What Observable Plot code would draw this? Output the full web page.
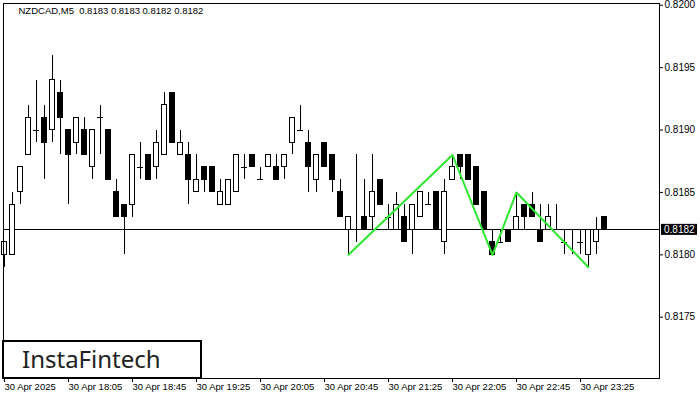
<!DOCTYPE html>
<html><head><meta charset="utf-8">
<script src="https://cdn.jsdelivr.net/npm/d3@7"></script>
<script src="https://cdn.jsdelivr.net/npm/@observablehq/plot@0.6"></script>
<style>body{margin:0;background:#fff}</style>
</head><body><div id="chart"></div>
<script>
const symbol = "NZDCAD,M5";
const opens = [
.8180,.8180,.8185,.8188,.8190,.8191,.8190,.8193,.8190,.8189,
.8190,.8187,.8191,.8190,.8185,.8184,.8184,.8187,.8188,.8187,
.8188,.8193,.8188,.8188,.8185,.8187,.8187,.8184,.8184,.8185,
.8187,.8188,.8186,.8187,.8187,.8187,.8189,.8190,.8189,.8186,
.8189,.8188,.8185,.8182,.8182,.8183,.8183,.8186,.8183,.8182,
.8183,.8182,.8183,.8184,.8185,.8181,.8186,.8188,.8188,.8187,
.8185,.8181,.8181,.8182,.8182,.8184,.8184,.8182,.8182,.8182,
.8181,.8182,.8181,.8180,.8181,.8183];
const highs = [
.8181,.8185,.8187,.8192,.8194,.8192,.8196,.8194,.8190,.8191,
.8191,.8190,.8192,.8190,.8186,.8184,.8188,.8189,.8188,.8190,
.8193,.8193,.8190,.8189,.8188,.8187,.8187,.8186,.8186,.8188,
.8188,.8188,.8187,.8188,.8188,.8188,.8191,.8192,.8190,.8188,
.8189,.8188,.8186,.8183,.8188,.8186,.8188,.8186,.8184,.8185,
.8184,.8184,.8185,.8185,.8185,.8186,.8188,.8188,.8188,.8187,
.8185,.8182,.8182,.8182,.8185,.8184,.8185,.8184,.8184,.8184,
.8182,.8182,.8182,.8182,.8183,.8183];
const lows = [
.8179,.8180,.8184,.8188,.8189,.8186,.8189,.8188,.8184,.8188,
.8188,.8186,.8188,.8186,.8183,.8180,.8183,.8186,.8186,.8186,
.8188,.8189,.8188,.8184,.8185,.8185,.8185,.8184,.8184,.8185,
.8186,.8187,.8186,.8187,.8186,.8186,.8188,.8190,.8185,.8185,
.8187,.8185,.8183,.8180,.8181,.8182,.8182,.8184,.8182,.8182,
.8181,.8180,.8183,.8184,.8182,.8180,.8186,.8186,.8186,.8184,
.8182,.8180,.8181,.8181,.8182,.8182,.8183,.8181,.8182,.8182,
.8180,.8180,.8180,.8179,.8180,.8182];
const closes = [
.8181,.8184,.8187,.8191,.8190,.8189,.8194,.8191,.8188,.8191,
.8188,.8190,.8191,.8186,.8183,.8183,.8188,.8187,.8186,.8189,
.8192,.8189,.8189,.8186,.8186,.8186,.8185,.8185,.8186,.8188,
.8187,.8187,.8186,.8188,.8186,.8188,.8191,.8190,.8187,.8188,
.8187,.8186,.8183,.8183,.8182,.8182,.8185,.8184,.8183,.8184,
.8181,.8184,.8185,.8184,.8182,.8185,.8187,.8187,.8186,.8184,
.8182,.8180,.8181,.8181,.8183,.8183,.8183,.8181,.8183,.8182,
.8181,.8182,.8181,.8182,.8182,.8182];
const patternIdx = [43, 56, 61, 64, 73];
const patternPrice = [0.8180, 0.8188, 0.8180, 0.8185, 0.8179];
const currentPrice = 0.8182;
const yTicks = [0.8175, 0.8180, 0.8185, 0.8190, 0.8195, 0.8200];
const xTickIdx = [0, 8, 16, 24, 32, 40, 48, 56, 64, 72];
const xLabels = ["30 Apr 2025","30 Apr 18:05","30 Apr 18:45","30 Apr 19:25","30 Apr 20:05","30 Apr 20:45","30 Apr 21:25","30 Apr 22:05","30 Apr 22:45","30 Apr 23:25"];
const logoText = "InstaFintech";

const bars = opens.map((o, i) => ({i, o, h: highs[i], l: lows[i], c: closes[i]}));
const bodies = bars.filter(d => d.o !== d.c);
const dojis = bars.filter(d => d.o === d.c);
const pattern = patternIdx.map((i, k) => ({i, p: patternPrice[k]}));
const f4 = d3.format(".4f");
const last = bars[bars.length - 1];
const title = `${symbol}  ${f4(last.o)} ${f4(last.h)} ${f4(last.l)} ${f4(last.c)}`;

const chart = Plot.plot({
  width: 700, height: 400,
  marginLeft: 3, marginRight: 41, marginTop: 3, marginBottom: 22,
  x: {type: "linear", domain: [-0.125, 81.875], axis: null, label: null},
  y: {type: "linear", domain: [0.817009, 0.820014], axis: null, label: null},
  style: {fontFamily: "'Liberation Sans', Arial, sans-serif", fontSize: "10px", background: "#fff", color: "#000", overflow: "visible"},
  marks: [
    Plot.ruleY([currentPrice], {stroke: "#000", strokeWidth: 1, shapeRendering: "crispEdges"}),
    Plot.ruleX(bars, {x: "i", y1: "l", y2: "h", stroke: "#000", strokeWidth: 1, shapeRendering: "crispEdges"}),
    Plot.rect(bodies, {x1: d => d.i - 0.28, x2: d => d.i + 0.28, y1: "o", y2: "c",
      fill: d => d.c > d.o ? "#ffffff" : "#000000", stroke: "#000", strokeWidth: 1, shapeRendering: "crispEdges"}),
    Plot.ruleY(dojis, {y: "o", x1: d => d.i - 0.35, x2: d => d.i + 0.35, stroke: "#000", strokeWidth: 1, shapeRendering: "crispEdges"}),
    Plot.line(pattern, {x: "i", y: "p", stroke: "#2ee62e", strokeWidth: 2}),
    Plot.frame({stroke: "#000", shapeRendering: "crispEdges"}),
    Plot.axisY({anchor: "right", ticks: yTicks, tickFormat: f4, tickSize: 3, tickPadding: 2, fontSize: 10, label: null}),
    Plot.axisX({anchor: "bottom", ticks: xTickIdx, tickFormat: d => xLabels[xTickIdx.indexOf(d)], tickSize: 4, tickPadding: 1, textAnchor: "start", fontSize: 9.5, label: null}),
    Plot.text([title], {frameAnchor: "top-left", dx: 15, dy: 4, textAnchor: "start", lineAnchor: "top", fontSize: 9.5, fill: "#000"}),
    (index, scales, values, dims) => {
      const y = scales.y(currentPrice);
      const x0 = dims.width - dims.marginRight + 2;
      const g = d3.create("svg:g");
      g.append("rect").attr("x", x0).attr("y", y - 5.5).attr("width", 36).attr("height", 11).attr("fill", "#000");
      g.append("text").attr("x", x0 + 3).attr("y", y).attr("dy", "0.36em").attr("fill", "#fff")
        .attr("text-anchor", "start").attr("font-size", 10).text(f4(currentPrice));
      return g.node();
    },
    (index, scales, values, dims) => {
      const g = d3.create("svg:g");
      const yb = dims.height - dims.marginBottom;
      g.append("rect").attr("x", 3).attr("y", yb - 37).attr("width", 198).attr("height", 37)
        .attr("fill", "#fff").attr("stroke", "#000").attr("stroke-width", 2);
      g.append("text").attr("x", 22).attr("y", yb - 10).attr("fill", "#222").attr("text-anchor", "start")
        .attr("font-family", "'Noto Sans', sans-serif").attr("font-size", 24).text(logoText);
      return g.node();
    }
  ]
});
document.getElementById("chart").append(chart);
</script>
</body></html>
